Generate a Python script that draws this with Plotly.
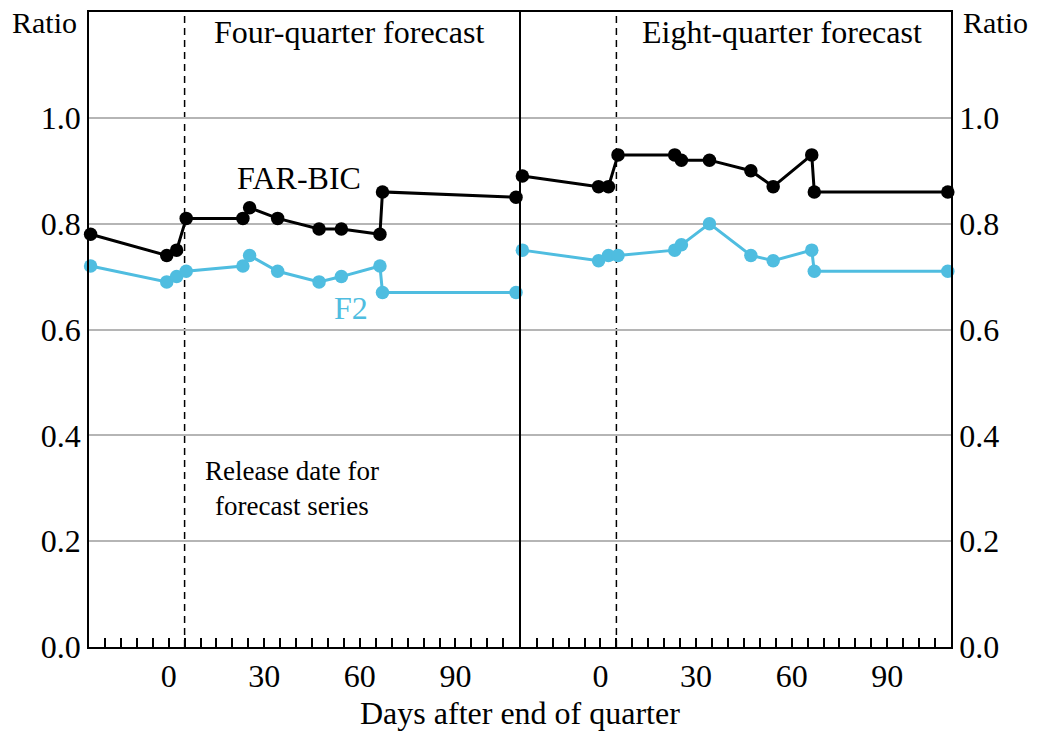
import plotly.graph_objects as go

# Days after end of quarter (same release schedule in both panels)
days = [-24.5, -0.6, 2.5, 5.5, 23.3, 25.4, 34.2, 47.2, 54.2, 66.3, 67.1, 109]

# Four-quarter forecast
far_bic_4q = [0.78, 0.74, 0.75, 0.81, 0.81, 0.83, 0.81, 0.79, 0.79, 0.78, 0.86, 0.85]
f2_4q = [0.72, 0.69, 0.70, 0.71, 0.72, 0.74, 0.71, 0.69, 0.70, 0.72, 0.67, 0.67]

# Eight-quarter forecast
far_bic_8q = [0.89, 0.87, 0.87, 0.93, 0.93, 0.92, 0.92, 0.90, 0.87, 0.93, 0.86, 0.86]
f2_8q = [0.75, 0.73, 0.74, 0.74, 0.75, 0.76, 0.80, 0.74, 0.73, 0.75, 0.71, 0.71]

x_ticks = [0, 30, 60, 90]
y_ticks = [0.0, 0.2, 0.4, 0.6, 0.8, 1.0]
release_day = 5

BLACK = "#000000"
BLUE = "#4fbde0"
FONT = "Liberation Serif"
LW = 1.6

fig = go.Figure()

for xa, ya, fb, f2 in [("x", "y", far_bic_4q, f2_4q), ("x2", "y2", far_bic_8q, f2_8q)]:
    fig.add_trace(go.Scatter(x=days, y=f2, xaxis=xa, yaxis=ya, mode="lines+markers",
                             line=dict(color=BLUE, width=3), marker=dict(color=BLUE, size=13.5),
                             showlegend=False, cliponaxis=False))
    fig.add_trace(go.Scatter(x=days, y=fb, xaxis=xa, yaxis=ya, mode="lines+markers",
                             line=dict(color=BLACK, width=3), marker=dict(color=BLACK, size=13.5),
                             showlegend=False, cliponaxis=False))

xcommon = dict(range=[-25, 110], tickvals=x_ticks, ticks="inside", ticklen=9, tickwidth=1.5,
               tickcolor=BLACK, showgrid=False, zeroline=False, showline=True, linecolor=BLACK,
               linewidth=LW, mirror=True, automargin=False,
               minor=dict(dtick=5, tick0=0, ticks="inside", ticklen=9, tickwidth=1.5,
                          tickcolor=BLACK, showgrid=False),
               tickfont=dict(family=FONT, size=32, color=BLACK))
ycommon = dict(range=[0, 1.2], tickvals=y_ticks, ticktext=[f"{v:.1f}" for v in y_ticks],
               ticks="", showgrid=True, gridcolor="#b5b5b5", gridwidth=1.5, zeroline=False,
               showline=True, linecolor=BLACK, linewidth=LW, mirror=True, automargin=False,
               tickfont=dict(family=FONT, size=32, color=BLACK))

plot_w = 1037 - 89 - 86
half_gap = (LW / 2) / plot_w

fig.update_layout(
    width=1037, height=733,
    margin=dict(l=89, r=86, t=12, b=86, autoexpand=False),
    paper_bgcolor="white", plot_bgcolor="white",
    xaxis=dict(domain=[0, 0.5 - half_gap], anchor="y", **xcommon),
    xaxis2=dict(domain=[0.5 + half_gap, 1], anchor="y2", **xcommon),
    yaxis=dict(anchor="x", side="left", **ycommon),
    yaxis2=dict(anchor="x2", side="right", **ycommon),
)

# dashed release-date lines
for xr, yr in [("x", "y"), ("x2", "y2")]:
    fig.add_shape(type="line", xref=xr, yref=f"{yr} domain", x0=release_day, x1=release_day,
                  y0=0, y1=1, line=dict(color=BLACK, width=1.5, dash="7px,5px"), layer="below")

ann = []
def t(text, x, y, xref="x", yref="y", size=32, color=BLACK, **kw):
    ann.append(dict(text=text, x=x, y=y, xref=xref, yref=yref, showarrow=False,
                    xanchor="center", yanchor="middle",
                    font=dict(family=FONT, size=size, color=color), **kw))

t("Four-quarter forecast", 56.6, 1.163)
t("Eight-quarter forecast", 56.9, 1.163, xref="x2", yref="y2")
t("FAR-BIC", 41, 0.887)
t("F2", 57.2, 0.641, color=BLUE)
t("Release date for<br>forecast series", 38.75, 0.30, size=27)
t("Ratio", -0.052, 0.984, xref="paper", yref="paper", size=30)
t("Ratio", 1.052, 0.984, xref="paper", yref="paper", size=30)
t("Days after end of quarter", 0.5, -0.104, xref="paper", yref="paper", size=32)
fig.update_layout(annotations=ann)

fig.write_html("out.html", config={"displayModeBar": False},
               post_script="document.body.style.margin='0px';")
